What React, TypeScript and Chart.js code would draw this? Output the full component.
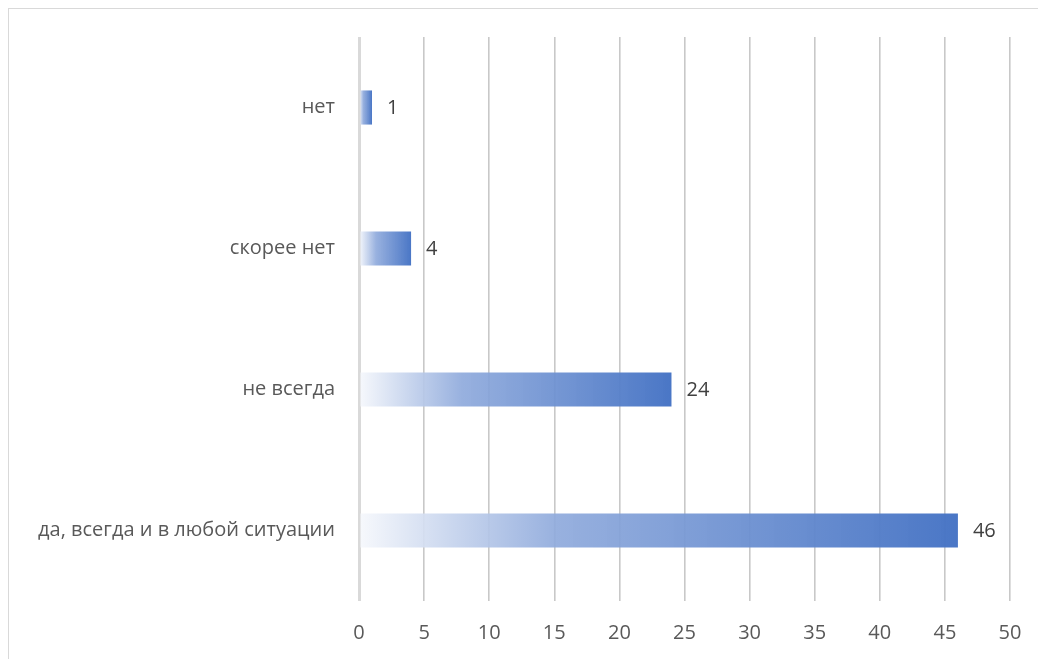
import React, { useEffect, useRef } from "react";
import { Chart, registerables } from "chart.js";

Chart.register(...registerables);

const categories = ["нет", "скорее нет", "не всегда", "да, всегда и в любой ситуации"];
const values = [1, 4, 24, 46];
const xMin = 0;
const xMax = 50;
const xStep = 5;

const FONT = "'Open Sans', sans-serif";

const labelPlugin = {
  id: "barLabels",
  afterDatasetsDraw(chart: any) {
    const ctx = chart.ctx;
    const meta = chart.getDatasetMeta(0);
    ctx.save();
    ctx.font = `20px ${FONT}`;
    ctx.fillStyle = "#404040";
    ctx.textAlign = "left";
    ctx.textBaseline = "middle";
    meta.data.forEach((bar: any, i: number) => {
      ctx.fillText(String(values[i]), bar.x + 15, bar.y + 1);
    });
    ctx.restore();
  },
};

export default function App() {
  const ref = useRef<HTMLCanvasElement | null>(null);
  useEffect(() => {
    if (!ref.current) return;
    const chart = new Chart(ref.current, {
      type: "bar",
      data: {
        labels: categories,
        datasets: [
          {
            data: values,
            backgroundColor: (c: any) => {
              const ch = c.chart;
              if (!ch.chartArea || c.type !== "data") return "#4472C4";
              const xs = ch.scales.x;
              const x0 = xs.getPixelForValue(0);
              const x1 = xs.getPixelForValue(c.raw);
              const g = ch.ctx.createLinearGradient(x0, 0, x1, 0);
              g.addColorStop(0, "rgba(246,248,252,0.92)");
              g.addColorStop(0.33, "rgba(143,170,220,0.92)");
              g.addColorStop(1, "rgba(68,114,196,0.97)");
              return g;
            },
            borderWidth: 0,
            barPercentage: 0.242,
            categoryPercentage: 1,
          },
        ],
      },
      options: {
        indexAxis: "y",
        animation: false,
        responsive: false,
        maintainAspectRatio: false,
        layout: { padding: { top: 28, right: 35, left: 0, bottom: 0 } },
        plugins: { legend: { display: false }, tooltip: { enabled: false } },
        scales: {
          x: {
            min: xMin,
            max: xMax,
            ticks: {
              stepSize: xStep,
              font: { family: FONT, size: 20 },
              color: "#595959",
              padding: 20,
            },
            grid: {
              color: (c: any) => (c.index === 0 ? "#d9d9d9" : "#c8c8c8"),
              lineWidth: (c: any) => (c.index === 0 ? 3 : 1.6),
              drawTicks: false,
            },
            border: { display: false },
            afterFit: (s: any) => {
              s.height = 57;
              s.paddingLeft = 0;
              s.paddingRight = 0;
            },
          },
          y: {
            ticks: {
              font: { family: FONT, size: 20 },
              color: "#595959",
              padding: 24,
            },
            grid: { display: false, drawTicks: false },
            border: { display: false },
            afterFit: (s: any) => {
              s.width = 350;
              s.paddingTop = 0;
              s.paddingBottom = 0;
            },
          },
        },
      },
      plugins: [labelPlugin],
    });
    return () => chart.destroy();
  }, []);
  return (
    <div
      style={{
        width: 1038,
        height: 651,
        boxSizing: "border-box",
        borderTop: "1.5px solid #d9d9d9",
        borderLeft: "1.5px solid #d9d9d9",
        overflow: "hidden",
      }}
    >
      <canvas ref={ref} width={1036} height={649} style={{ display: "block" }} />
    </div>
  );
}
